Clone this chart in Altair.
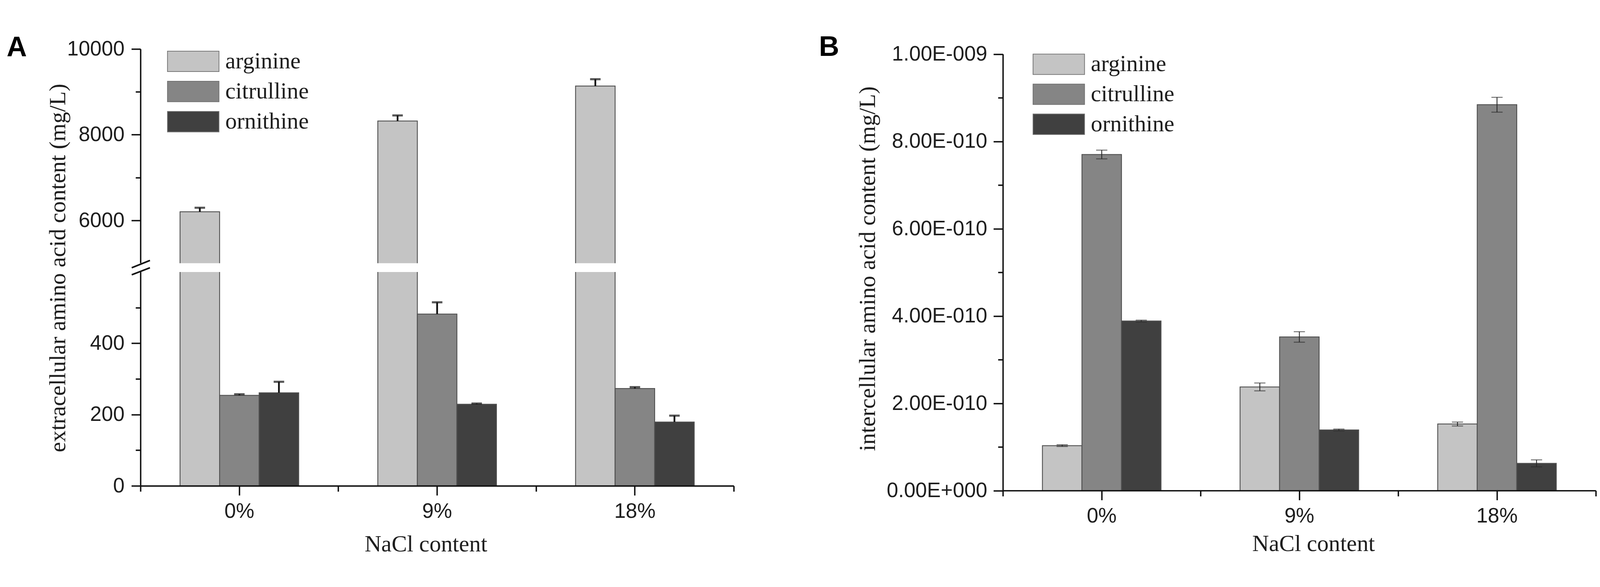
import altair as alt
import pandas as pd

# ---------------- data ----------------
nacl = ["0%", "9%", "18%"]
acids = ["arginine", "citrulline", "ornithine"]
acid_colors = ["#c4c4c4", "#858585", "#404040"]

# A: extracellular amino acid content (mg/L)
a_arginine = [6200, 8320, 9135]
a_arginine_sd = [95, 130, 160]
a_citrulline = [254, 482, 273]
a_citrulline_sd = [3, 33, 4]
a_ornithine = [261, 229, 179]
a_ornithine_sd = [31, 2, 18]

# B: intercellular amino acid content (mg/L)
b_arginine = [1.03e-10, 2.375e-10, 1.525e-10]
b_arginine_sd = [0.02e-10, 0.09e-10, 0.045e-10]
b_citrulline = [7.70e-10, 3.52e-10, 8.84e-10]
b_citrulline_sd = [0.10e-10, 0.12e-10, 0.17e-10]
b_ornithine = [3.885e-10, 1.39e-10, 0.624e-10]
b_ornithine_sd = [0.02e-10, 0.02e-10, 0.08e-10]

a_ticks = [0, 200, 400, 6000, 8000, 10000]
a_minor_ticks = [100, 300, 500, 7000, 9000]
a_domain = [0, 600, 5000, 10000]          # broken axis: 0-600 // 5000-10000
b_ticks = [0, 2e-10, 4e-10, 6e-10, 8e-10, 1e-9]
b_minor_ticks = [1e-10, 3e-10, 5e-10, 7e-10, 9e-10]


def frame(series, sds):
    rows = []
    for acid, vals, errs in zip(acids, series, sds):
        for n, v, e in zip(nacl, vals, errs):
            rows.append({"nacl": n, "acid": acid, "value": v, "err": e,
                         "lo": v - e, "hi": v + e})
    return pd.DataFrame(rows)


dfA = frame([a_arginine, a_citrulline, a_ornithine],
            [a_arginine_sd, a_citrulline_sd, a_ornithine_sd])
dfB = frame([b_arginine, b_citrulline, b_ornithine],
            [b_arginine_sd, b_citrulline_sd, b_ornithine_sd])
one = pd.DataFrame({"k": [0]})

# ---------------- layout constants ----------------
WA, HA = 1693, 1246
WB, HB = 1692, 1259.5      # B plot starts 14.5 px lower than A
B_TOP = 14.5
TXT = "#1e1e1e"

xs = alt.Scale(domain=nacl, paddingInner=0, paddingOuter=0)
xo = alt.Scale(domain=acids, paddingInner=0, paddingOuter=alt.ExprRef("1.48"))
cscale = alt.Scale(domain=acids, range=acid_colors)
yA = alt.Scale(domain=a_domain, range=[HA, HA - 610, HA - 635, 0], nice=False, zero=False)
yB = alt.Scale(domain=[0, 1e-9], range=[HB, B_TOP], nice=False, zero=True)

# legend swatch: 147 x 58 rectangle drawn from a small symbol size (row height = 66)
sym_path = "M-1.03125,-0.9125L3.5625,-0.9125L3.5625,0.9125L-1.03125,0.9125Z"


def legend(lx, ly, row_pad):
    return alt.Legend(title=None, orient="none", legendX=lx, legendY=ly, padding=0,
                      symbolType=sym_path, symbolSize=4096,
                      symbolStrokeColor="#6e6e6e", symbolStrokeWidth=2, symbolOpacity=1,
                      labelFont="Liberation Serif", labelFontSize=66, labelColor=TXT,
                      labelOffset=99, labelLimit=1000, rowPadding=row_pad)


def x_major(title_x, title_y):
    return alt.Axis(orient="bottom", tickSize=27, labelPadding=17, labelAngle=0,
                    title="NaCl content", titleX=title_x, titleY=title_y,
                    titleBaseline="alphabetic", titleAlign="center", zindex=1)


x_minor = alt.Axis(orient="bottom", tickBand="extent", tickSize=16, labels=False,
                   domain=False, title=None, zindex=1)

b_label_expr = ("datum.value == 0 ? '0.00E+000' : "
                "format(datum.value / pow(10, floor(log(datum.value) / LN10 + 1e-6)), '.2f')"
                " + 'E-' + pad(toString(-floor(log(datum.value) / LN10 + 1e-6)), 3, '0', 'left')")


def panel_letter(letter, px, py):
    return alt.Chart(one).mark_text(
        text=letter, font="Liberation Sans", fontSize=80, fontWeight="bold",
        color="black", align="left", baseline="alphabetic"
    ).encode(x=alt.value(px), y=alt.value(py))


# ---------------- panel A ----------------
barsA = alt.Chart(dfA).mark_bar(stroke="#505050", strokeWidth=2.5).encode(
    x=alt.X("nacl:N", sort=nacl, scale=xs, axis=x_major(814, 186)),
    xOffset=alt.XOffset("acid:N", sort=acids, scale=xo),
    y=alt.Y("value:Q", scale=yA,
            axis=alt.Axis(values=a_ticks, format="d", orient="left", tickSize=26,
                          labelPadding=20, title="extracellular amino acid content (mg/L)",
                          titleX=-215, titleY=624, titleAngle=270,
                          titleBaseline="alphabetic", titleAlign="center", zindex=0)),
    color=alt.Color("acid:N", sort=acids, scale=cscale, legend=legend(77, 2.2, 18)),
)
errA = alt.Chart(dfA).mark_rule(color="#111111", strokeWidth=5).encode(
    x=alt.X("nacl:N", sort=nacl, scale=xs, axis=x_minor),
    xOffset=alt.XOffset("acid:N", sort=acids, scale=xo),
    y=alt.Y("value:Q", scale=yA,
            axis=alt.Axis(values=a_minor_ticks, orient="left", tickSize=14, labels=False,
                          domain=False, title=None, zindex=0)),
    y2="hi:Q",
)
capA = alt.Chart(dfA).mark_tick(color="#111111", thickness=6, size=30).encode(
    x=alt.X("nacl:N", sort=nacl, scale=xs, axis=None),
    xOffset=alt.XOffset("acid:N", sort=acids, scale=xo),
    y=alt.Y("hi:Q", scale=yA, axis=None),
)
gapA = alt.Chart(one).mark_rect(color="white").encode(
    x=alt.value(-12), x2=alt.value(WA),
    y=alt.YDatum(a_domain[1], type="quantitative", axis=None),
    y2=alt.Y2Datum(a_domain[2]),
)
slash1 = alt.Chart(one).mark_rule(color="#111111", strokeWidth=4.5).encode(
    x=alt.value(-25), x2=alt.value(27), y=alt.value(624), y2=alt.value(603))
slash2 = alt.Chart(one).mark_rule(color="#111111", strokeWidth=4.5).encode(
    x=alt.value(-25), x2=alt.value(27), y=alt.value(644), y2=alt.value(624))

panelA = alt.layer(barsA, errA, capA, gapA, slash1, slash2,
                   panel_letter("A", -382, 21)).resolve_axis(
    x="independent", y="independent"
).properties(width=WA, height=HA)

# ---------------- panel B ----------------
barsB = alt.Chart(dfB).mark_bar(stroke="#505050", strokeWidth=2.5).encode(
    x=alt.X("nacl:N", sort=nacl, scale=xs, axis=x_major(886, 172)),
    xOffset=alt.XOffset("acid:N", sort=acids, scale=xo),
    y=alt.Y("value:Q", scale=yB,
            axis=alt.Axis(values=b_ticks, labelExpr=b_label_expr, orient="left",
                          tickSize=27, labelPadding=18, labelLimit=600,
                          title="intercellular amino acid content (mg/L)",
                          titleX=-365, titleY=B_TOP + 611.5, titleAngle=270,
                          titleBaseline="alphabetic", titleAlign="center", zindex=0)),
    color=alt.Color("acid:N", sort=acids, scale=cscale, legend=legend(86, 10.6, 17.5)),
)
errB = alt.Chart(dfB).mark_rule(color="#2a2a2a", strokeWidth=2.5).encode(
    x=alt.X("nacl:N", sort=nacl, scale=xs, axis=x_minor),
    xOffset=alt.XOffset("acid:N", sort=acids, scale=xo),
    y=alt.Y("lo:Q", scale=yB,
            axis=alt.Axis(values=b_minor_ticks, orient="left", tickSize=14, labels=False,
                          domain=False, title=None, zindex=0)),
    y2="hi:Q",
)
capB_hi = alt.Chart(dfB).mark_tick(color="#2a2a2a", thickness=2.5, size=32).encode(
    x=alt.X("nacl:N", sort=nacl, scale=xs, axis=None),
    xOffset=alt.XOffset("acid:N", sort=acids, scale=xo),
    y=alt.Y("hi:Q", scale=yB, axis=None),
)
capB_lo = alt.Chart(dfB).mark_tick(color="#2a2a2a", thickness=2.5, size=32).encode(
    x=alt.X("nacl:N", sort=nacl, scale=xs, axis=None),
    xOffset=alt.XOffset("acid:N", sort=acids, scale=xo),
    y=alt.Y("lo:Q", scale=yB, axis=None),
)

panelB = alt.layer(barsB, errB, capB_hi, capB_lo,
                   panel_letter("B", -525, 20)).resolve_axis(
    x="independent", y="independent"
).properties(width=WB, height=HB)

# fixed page geometry: plot A origin at (400, 54) on the page (8px body margin)
chart = alt.hconcat(panelA, panelB, spacing=768, bounds="flush").resolve_scale(
    x="independent", y="independent", color="independent", xOffset="independent"
).properties(
    autosize=alt.AutoSizeParams(type="none"),
    padding={"left": 392, "top": 46, "right": 4156, "bottom": 1434},
    background="white",
).configure_view(stroke=None).configure_axis(
    labelFont="Liberation Sans", labelFontSize=59, labelColor=TXT,
    titleFont="Liberation Serif", titleFontSize=66, titleFontWeight="normal", titleColor=TXT,
    domainColor="#111111", tickColor="#111111", domainWidth=4, tickWidth=4, grid=False,
)

chart.save("out.html", embed_options={"renderer": "svg", "actions": False})
